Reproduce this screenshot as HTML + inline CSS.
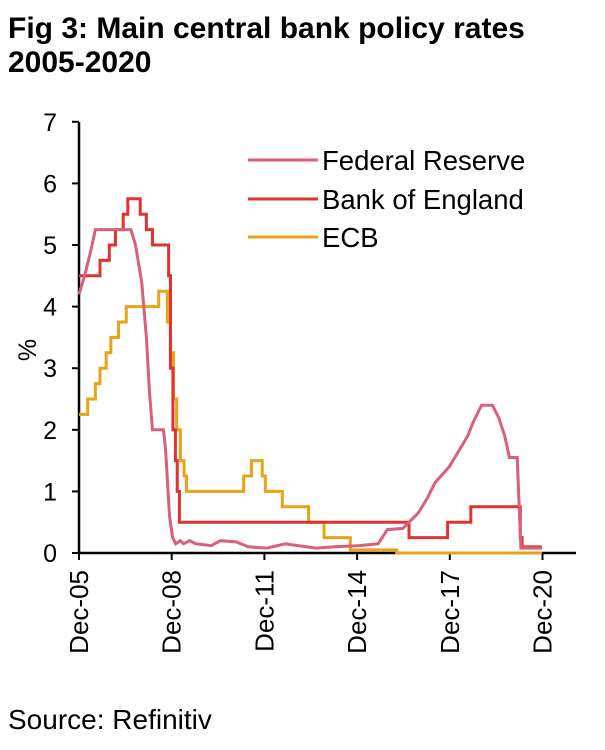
<!DOCTYPE html>
<html><head><style>
body{margin:0;background:#fff;width:605px;height:745px;overflow:hidden;font-family:"Liberation Sans",Arial,sans-serif}
</style></head><body>
<svg width="605" height="745" xmlns="http://www.w3.org/2000/svg" font-family="Liberation Sans, Arial, sans-serif">
<text x="8" y="38" font-size="30" font-weight="bold" fill="#000">Fig 3: Main central bank policy rates</text>
<text x="8" y="72" font-size="30" font-weight="bold" fill="#000">2005-2020</text>
<g id="axes" stroke="#000" stroke-width="2.5" fill="none">
<line x1="79" y1="122" x2="79" y2="554"/>
<line x1="78" y1="553" x2="576" y2="553"/>
</g>
<g id="ticks" stroke="#000" stroke-width="2"></g>
<g font-size="25" fill="#000" text-anchor="end" id="ylab"></g>
<text transform="translate(36,350) rotate(-90)" font-size="25" text-anchor="middle">%</text>
<g font-size="26" fill="#000" id="xlab"></g>
<path id="ecb" fill="none" stroke="#E8A317" stroke-width="3"/>
<path id="boe" fill="none" stroke="#E0322F" stroke-width="3"/>
<path id="fed" fill="none" stroke="#D9607A" stroke-width="3"/>
<g stroke-width="3">
<line x1="248" y1="160" x2="318" y2="160" stroke="#D9607A"/>
<line x1="248" y1="199" x2="318" y2="199" stroke="#E0322F"/>
<line x1="248" y1="237" x2="318" y2="237" stroke="#E8A317"/>
</g>
<g font-size="27.5" fill="#000">
<text x="322" y="170">Federal Reserve</text>
<text x="322" y="209">Bank of England</text>
<text x="322" y="247">ECB</text>
</g>
<text x="8" y="729" font-size="28" fill="#000">Source: Refinitiv</text>
</svg>
<script>
var X=function(t){return 79+30.9*(t-2005.92)},Y=function(v){return 553-61.6*v};
var ns="http://www.w3.org/2000/svg";
var tk=document.getElementById('ticks'),yl=document.getElementById('ylab'),xl=document.getElementById('xlab');
for(var i=0;i<=7;i++){var l=document.createElementNS(ns,'line');l.setAttribute('x1',72);l.setAttribute('x2',79);l.setAttribute('y1',Y(i));l.setAttribute('y2',Y(i));tk.appendChild(l);
var t=document.createElementNS(ns,'text');t.setAttribute('x',57);t.setAttribute('y',Y(i)+9);t.textContent=i;yl.appendChild(t);}
['Dec-05','Dec-08','Dec-11','Dec-14','Dec-17','Dec-20'].forEach(function(s,k){var x=X(2005.92+3*k);
var l=document.createElementNS(ns,'line');l.setAttribute('x1',x);l.setAttribute('x2',x);l.setAttribute('y1',553);l.setAttribute('y2',560);tk.appendChild(l);
var t=document.createElementNS(ns,'text');t.setAttribute('transform','translate('+(x+9)+',570) rotate(-90)');t.setAttribute('text-anchor','end');t.textContent=s;xl.appendChild(t);});
function step(d,end){var p='',v;for(var i=0;i<d.length;i++){var t=d[i][0];v=d[i][1];p+=(i?'L'+X(t)+' '+Y(d[i-1][1])+' ':'M')+X(t)+' '+Y(v)+' ';}return p+'L'+X(end)+' '+Y(v);}
function lin(d){return d.map(function(q,i){return (i?'L':'M')+X(q[0]).toFixed(1)+' '+Y(q[1]).toFixed(1)}).join(' ');}
document.getElementById('boe').setAttribute('d',step([[2005.92,4.5],[2006.6,4.75],[2006.9,5],[2007.1,5.25],[2007.35,5.5],[2007.5,5.75],[2007.9,5.5],[2008.1,5.25],[2008.3,5],[2008.82,4.5],[2008.88,3],[2008.96,2],[2009.04,1.5],[2009.1,1],[2009.17,0.5],[2016.6,0.25],[2017.85,0.5],[2018.6,0.75],[2020.2,0.25],[2020.26,0.1]],2020.9));
document.getElementById('ecb').setAttribute('d',step([[2005.92,2.25],[2006.2,2.5],[2006.45,2.75],[2006.6,3],[2006.8,3.25],[2006.95,3.5],[2007.2,3.75],[2007.45,4],[2008.5,4.25],[2008.78,3.75],[2008.88,3.25],[2008.98,2.5],[2009.08,2],[2009.2,1.5],[2009.32,1.25],[2009.4,1],[2011.25,1.25],[2011.5,1.5],[2011.85,1.25],[2011.95,1],[2012.5,0.75],[2013.35,0.5],[2013.85,0.25],[2014.7,0.05],[2016.2,0]],2020.9));
document.getElementById('fed').setAttribute('d',lin([[2005.92,4.2],[2006.1,4.5],[2006.3,4.9],[2006.45,5.25],[2007.6,5.25],[2007.75,5.0],[2007.95,4.4],[2008.1,3.5],[2008.2,2.6],[2008.3,2.0],[2008.65,2.0],[2008.72,1.7],[2008.85,0.6],[2008.95,0.25],[2009.05,0.15],[2009.2,0.2],[2009.3,0.15],[2009.5,0.2],[2009.7,0.15],[2010.2,0.12],[2010.5,0.2],[2011,0.18],[2011.4,0.1],[2012,0.08],[2012.6,0.15],[2013,0.12],[2013.6,0.08],[2014.2,0.1],[2015,0.12],[2015.6,0.15],[2015.9,0.38],[2016.4,0.4],[2016.9,0.65],[2017.2,0.9],[2017.45,1.15],[2017.9,1.4],[2018.2,1.65],[2018.5,1.9],[2018.7,2.15],[2018.95,2.4],[2019.3,2.4],[2019.5,2.2],[2019.7,1.9],[2019.85,1.55],[2020.1,1.55],[2020.22,0.08],[2020.9,0.08]]));
</script>
</body></html>
